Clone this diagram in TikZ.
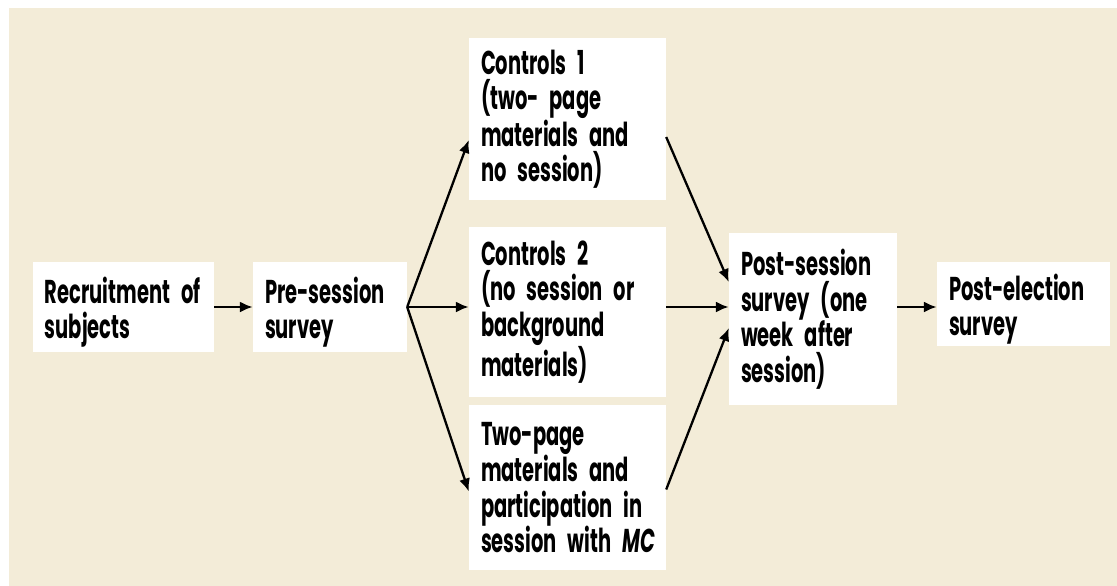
\documentclass[tikz,border=0pt]{standalone}
\usepackage{fontspec}
\newfontfamily\boxfont{Poppins}[FakeStretch=0.59]
\usetikzlibrary{arrows.meta}
\definecolor{paper}{RGB}{243,236,216}
\newcommand\dropline{\rule{0pt}{37pt}}
\begin{document}
\begin{tikzpicture}[x=1pt,y=-1pt,
	stagebox/.style={fill=white,inner xsep=12pt,inner ysep=0pt,align=left,
		font=\boxfont\bfseries\fontsize{33}{35.5}\selectfont},
	flow/.style={line width=2.3pt,-{Latex[length=13pt,width=11pt]}}]
		\useasboundingbox(0,0)rectangle(1117,586);
		\fill[paper](9,8)rectangle(1117,586);
		\node[stagebox,text width=157pt,minimum height=90pt](rec)at(123.5,307){\dropline Recruitment of\\subjects};
		\node[stagebox,text width=130pt,minimum height=90pt](pre)at(330,307){\dropline Pre-session\\survey};
		\node[stagebox,text width=173pt,minimum height=162pt](ctrlA)at(567.5,119){Controls 1\\(two- page\\materials and\\no session)};
		\node[stagebox,text width=173pt,minimum height=170pt](ctrlB)at(567.5,312){Controls 2\\(no session or\\background\\materials)};
		\node[stagebox,text width=173pt,minimum height=165pt](treat)at(567.5,487.5){Two-page\\materials and\\participation in\\\mbox{session with {\itshape MC}}};
		\node[stagebox,text width=144pt,minimum height=172pt](post)at(813,319){Post-session\\survey (one\\week after\\session)};
		\node[stagebox,text width=149pt,minimum height=84pt](elect)at(1023.5,304){\dropline Post-election\\survey};
		\draw[flow](rec.east|-pre.east)--(pre.west);
		\draw[flow](pre.east)--([yshift=-21pt]ctrlA.west);
		\draw[flow](pre.east)--(pre.east-|ctrlB.west);
		\draw[flow](pre.east)--([yshift=-4pt]treat.west);
		\draw[flow]([yshift=-18pt]ctrlA.east)--([yshift=37pt]post.west);
		\draw[flow](pre.east-|ctrlB.east)--(pre.east-|post.west);
		\draw[flow]([yshift=-2pt]treat.east)--([yshift=-9pt]post.west);
		\draw[flow](pre.east-|post.east)--(pre.east-|elect.west);
	\end{tikzpicture}
\end{document}
